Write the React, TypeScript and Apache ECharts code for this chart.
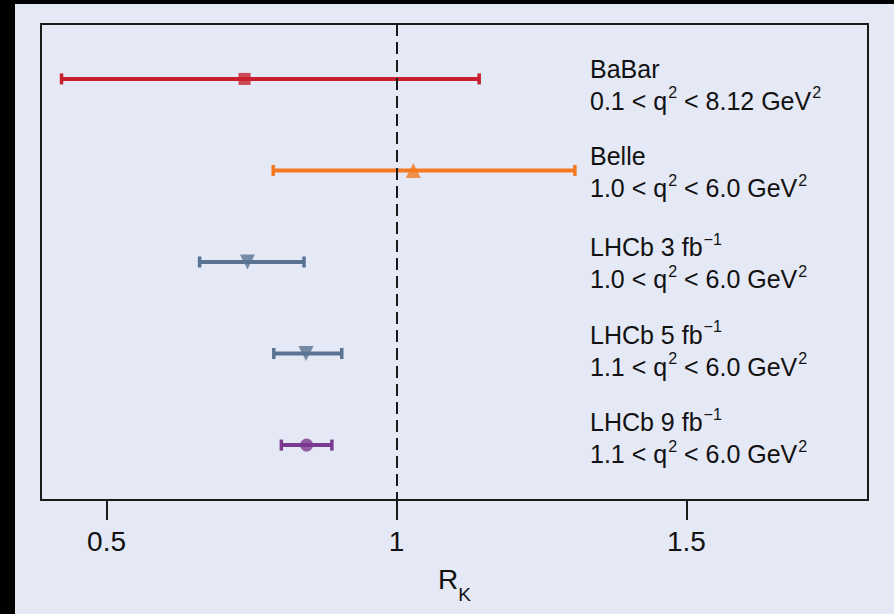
import React, { useEffect, useRef } from "react";
import * as echarts from "echarts";

const experiments = ["BaBar", "Belle", "LHCb 3 fb", "LHCb 5 fb", "LHCb 9 fb"];
const centralValues = [0.738, 1.029, 0.743, 0.844, 0.845];
const lowerBounds = [0.422, 0.787, 0.660, 0.788, 0.801];
const upperBounds = [1.143, 1.308, 0.841, 0.906, 0.889];
const colors = ["#c71f2d", "#f47920", "#5a7392", "#5a7392", "#7a3a8e"];
const symbols = ["rect", "triangle", "triangle", "triangle", "circle"];
const symbolRotations = [0, 0, 180, 180, 0];
const labelTitles = [
  "{a|BaBar}",
  "{a|Belle}",
  "{a|LHCb 3 fb}{s|−1}",
  "{a|LHCb 5 fb}{s|−1}",
  "{a|LHCb 9 fb}{s|−1}",
];
const labelRanges = [
  "{b|0.1 < q}{s|2}{b| < 8.12 GeV}{s|2}",
  "{b|1.0 < q}{s|2}{b| < 6.0 GeV}{s|2}",
  "{b|1.0 < q}{s|2}{b| < 6.0 GeV}{s|2}",
  "{b|1.1 < q}{s|2}{b| < 6.0 GeV}{s|2}",
  "{b|1.1 < q}{s|2}{b| < 6.0 GeV}{s|2}",
];
const xTicks = [0.5, 1, 1.5];
const referenceValue = 1;

const FONT = "'Liberation Sans', Arial, sans-serif";

export default function App() {
  const ref = useRef<HTMLDivElement>(null);
  useEffect(() => {
    if (!ref.current) return;
    const chart = echarts.init(ref.current, undefined, { renderer: "svg" });
    const rich = {
      a: { fontSize: 25, fontFamily: FONT, color: "#111", lineHeight: 32 },
      b: { fontSize: 25, fontFamily: FONT, color: "#111", lineHeight: 32 },
      s: { fontSize: 16, fontFamily: FONT, color: "#111", lineHeight: 32, verticalAlign: "top", padding: [0, 0, 0, 1] },
    };
    const labelGraphics = experiments.map((_, i) => ({
      type: "text",
      left: 590,
      top: 56 + 87.5 * i,
      style: {
        text: labelTitles[i] + "\n" + labelRanges[i],
        rich,
        fill: "#111",
      },
    }));
    const option = {
      animation: false,
      backgroundColor: "#e5e8f5",
      grid: {
        left: 41,
        right: 26,
        top: 24,
        bottom: 114,
        show: true,
        borderColor: "#1a1a1a",
        borderWidth: 2,
        backgroundColor: "transparent",
      },
      xAxis: {
        type: "value",
        min: 0.387,
        max: 1.813,
        name: "{r|R}{k|K}",
        nameLocation: "middle",
        nameGap: 62,
        nameTextStyle: {
          rich: {
            r: { fontSize: 28, fontFamily: FONT, color: "#111", lineHeight: 34 },
            k: { fontSize: 19, fontFamily: FONT, color: "#111", lineHeight: 34, verticalAlign: "bottom", padding: [0, 0, -8, 0] },
          },
        },
        axisLine: { show: true, onZero: false, lineStyle: { color: "#1a1a1a", width: 2 } },
        splitLine: { show: false },
        axisTick: {
          show: true,
          inside: false,
          length: 20,
          customValues: xTicks,
          lineStyle: { color: "#1a1a1a", width: 2 },
        },
        axisLabel: {
          customValues: xTicks,
          fontSize: 28,
          fontFamily: FONT,
          color: "#111",
          margin: 27,
          formatter: (v: number) => String(v),
        },
      },
      yAxis: {
        type: "value",
        min: -0.6,
        max: 4.6,
        inverse: true,
        show: false,
        splitLine: { show: false },
      },
      graphic: [
        { type: "rect", shape: { x: 0, y: 0, width: 15, height: 614 }, style: { fill: "#000" }, z: 100 },
        { type: "rect", shape: { x: 0, y: 0, width: 894, height: 4 }, style: { fill: "#000" }, z: 100 },
        ...labelGraphics,
      ],
      series: [
        {
          type: "custom",
          coordinateSystem: "cartesian2d",
          z: 3,
          data: experiments.map((_, i) => [lowerBounds[i], upperBounds[i], i]),
          renderItem: (params: any, api: any) => {
            const lo = api.coord([api.value(0), api.value(2)]);
            const hi = api.coord([api.value(1), api.value(2)]);
            const color = colors[params.dataIndex];
            const y = lo[1];
            const capH = 11;
            return {
              type: "group",
              children: [
                {
                  type: "line",
                  shape: { x1: lo[0], y1: y, x2: hi[0], y2: y },
                  style: { stroke: color, lineWidth: 4 },
                },
                {
                  type: "rect",
                  shape: { x: lo[0] - 1.5, y: y - capH / 2, width: 3.5, height: capH },
                  style: { fill: color },
                },
                {
                  type: "rect",
                  shape: { x: hi[0] - 2, y: y - capH / 2, width: 3.5, height: capH },
                  style: { fill: color },
                },
              ],
            };
          },
          markLine: {
            silent: true,
            symbol: "none",
            label: { show: false },
            lineStyle: { color: "#1a1a1a", width: 2, type: [12, 6] },
            data: [{ xAxis: referenceValue }],
          },
        },
        {
          type: "scatter",
          z: 4,
          data: experiments.map((_, i) => ({
            value: [centralValues[i], i],
            symbol: symbols[i],
            symbolRotate: symbolRotations[i],
            symbolSize: symbols[i] === "rect" ? 12 : symbols[i] === "circle" ? 13 : 15,
            itemStyle: { color: colors[i] },
          })),
        },
      ],
    };
    chart.setOption(option as any);
    return () => chart.dispose();
  }, []);
  return (
    <div
      ref={ref}
      style={{ position: "fixed", left: 0, top: 0, width: 894, height: 614 }}
    />
  );
}
